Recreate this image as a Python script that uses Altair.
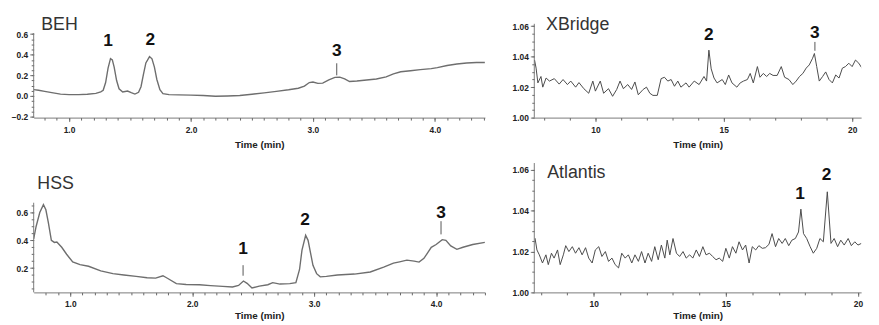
import altair as alt
import pandas as pd

# ---------------- data ----------------
beh_t = [0.71, 0.75, 0.80, 0.87, 0.93, 1.00, 1.08, 1.15, 1.22, 1.26, 1.28, 1.30, 1.32, 1.34, 1.355,
         1.37, 1.39, 1.41, 1.44, 1.48, 1.51, 1.54, 1.57, 1.59, 1.61, 1.63, 1.66, 1.68, 1.70, 1.72,
         1.745, 1.77, 1.82, 1.90, 2.00, 2.10, 2.20, 2.30, 2.40, 2.50, 2.60, 2.70, 2.80, 2.88, 2.93,
         2.97, 3.00, 3.04, 3.08, 3.13, 3.18, 3.22, 3.26, 3.30, 3.36, 3.44, 3.52, 3.60, 3.66, 3.72,
         3.80, 3.88, 3.97, 4.02, 4.10, 4.18, 4.26, 4.34, 4.41]
beh_y = [0.062, 0.055, 0.045, 0.03, 0.018, 0.013, 0.013, 0.017, 0.025, 0.04, 0.055, 0.13, 0.27, 0.362, 0.35,
         0.28, 0.15, 0.07, 0.038, 0.048, 0.032, 0.018, 0.035, 0.09, 0.21, 0.32, 0.382, 0.36, 0.28, 0.16,
         0.06, 0.022, 0.013, 0.01, 0.008, 0.005, -0.003, 0.0, 0.005, 0.017, 0.03, 0.045, 0.06, 0.075, 0.095,
         0.13, 0.135, 0.122, 0.125, 0.155, 0.18, 0.183, 0.165, 0.14, 0.145, 0.155, 0.165, 0.185, 0.215, 0.235,
         0.245, 0.255, 0.265, 0.275, 0.295, 0.31, 0.32, 0.325, 0.325]

hss_t = [0.70, 0.72, 0.75, 0.78, 0.80, 0.82, 0.845, 0.87, 0.89, 0.93, 0.97, 1.02, 1.08, 1.15, 1.25,
         1.35, 1.44, 1.54, 1.63, 1.70, 1.76, 1.80, 1.87, 1.95, 2.06, 2.15, 2.25, 2.33, 2.38, 2.42,
         2.45, 2.49, 2.55, 2.62, 2.66, 2.72, 2.80, 2.85, 2.88, 2.90, 2.93, 2.95, 2.97, 2.99, 3.02,
         3.05, 3.10, 3.19, 3.33, 3.46, 3.57, 3.65, 3.70, 3.76, 3.82, 3.86, 3.90, 3.93, 3.96, 4.00,
         4.05, 4.08, 4.12, 4.17, 4.22, 4.30, 4.40]
hss_y = [0.41, 0.50, 0.60, 0.657, 0.62, 0.53, 0.40, 0.385, 0.388, 0.35, 0.30, 0.245, 0.225, 0.213, 0.18,
         0.16, 0.15, 0.14, 0.13, 0.128, 0.145, 0.125, 0.088, 0.082, 0.08, 0.074, 0.068, 0.064, 0.075, 0.107,
         0.09, 0.057, 0.07, 0.08, 0.095, 0.085, 0.088, 0.095, 0.19, 0.33, 0.436, 0.40, 0.31, 0.22, 0.16,
         0.137, 0.14, 0.15, 0.157, 0.172, 0.207, 0.236, 0.245, 0.257, 0.25, 0.243, 0.27, 0.31, 0.35, 0.37,
         0.405, 0.40, 0.36, 0.335, 0.35, 0.37, 0.385]

xb_t = [7.58, 7.63, 7.69, 7.76, 7.88, 7.95, 8.08, 8.21, 8.40, 8.59, 8.74, 8.91, 9.04, 9.23, 9.36, 9.55,
        9.74, 9.90, 10.0, 10.19, 10.32, 10.51, 10.67, 10.83, 10.96, 11.09, 11.26, 11.41, 11.54, 11.67,
        11.86, 11.99, 12.12, 12.24, 12.41, 12.56, 12.69, 12.82, 12.95, 13.08, 13.21, 13.33, 13.53, 13.65,
        13.85, 14.04, 14.23, 14.33, 14.42, 14.51, 14.62, 14.74, 14.94, 15.06, 15.19, 15.32, 15.51, 15.64,
        15.77, 15.92, 16.03, 16.15, 16.31, 16.41, 16.54, 16.67, 16.79, 16.92, 17.08, 17.24, 17.37, 17.54,
        17.69, 17.82, 17.95, 18.08, 18.21, 18.33, 18.46, 18.53, 18.62, 18.72, 18.85, 18.97, 19.10, 19.23,
        19.36, 19.49, 19.62, 19.74, 19.87, 20.0, 20.13, 20.26, 20.38, 20.51, 20.71]
xb_y = [1.034, 1.0378, 1.0325, 1.0228, 1.027, 1.020, 1.026, 1.024, 1.0256, 1.022, 1.025, 1.0217, 1.024,
        1.020, 1.023, 1.019, 1.016, 1.024, 1.0174, 1.024, 1.016, 1.019, 1.014, 1.0185, 1.024, 1.019, 1.0217,
        1.0185, 1.0234, 1.015, 1.0185, 1.020, 1.016, 1.0146, 1.0146, 1.0256, 1.0265, 1.024, 1.025, 1.0206,
        1.024, 1.020, 1.0228, 1.020, 1.024, 1.0217, 1.027, 1.024, 1.0443, 1.032, 1.026, 1.0228, 1.025,
        1.0217, 1.028, 1.0228, 1.020, 1.0228, 1.024, 1.025, 1.029, 1.0228, 1.0335, 1.0265, 1.029, 1.027,
        1.029, 1.0277, 1.0277, 1.0335, 1.0265, 1.025, 1.0217, 1.024, 1.027, 1.029, 1.0325, 1.0346, 1.039,
        1.0421, 1.0335, 1.024, 1.027, 1.030, 1.025, 1.0228, 1.028, 1.026, 1.0325, 1.0335, 1.0357, 1.0335,
        1.0378, 1.0357, 1.0325, 1.030, 1.031]

at_t = [7.75, 7.78, 7.85, 7.94, 8.06, 8.19, 8.28, 8.40, 8.50, 8.63, 8.73, 8.85, 8.94, 9.06, 9.19, 9.31,
        9.44, 9.56, 9.69, 9.81, 9.94, 10.06, 10.19, 10.31, 10.44, 10.56, 10.69, 10.81, 10.94, 11.06, 11.19,
        11.31, 11.44, 11.56, 11.69, 11.81, 11.94, 12.06, 12.19, 12.31, 12.44, 12.56, 12.69, 12.78, 12.88,
        13.0, 13.13, 13.25, 13.38, 13.5, 13.63, 13.75, 13.88, 14.0, 14.13, 14.25, 14.38, 14.5, 14.63, 14.75,
        14.88, 15.0, 15.13, 15.25, 15.38, 15.5, 15.63, 15.75, 15.88, 16.0, 16.13, 16.25, 16.38, 16.5, 16.63,
        16.75, 16.88, 17.0, 17.13, 17.25, 17.38, 17.5, 17.63, 17.75, 17.84, 17.94, 18.06, 18.19, 18.31,
        18.44, 18.56, 18.69, 18.84, 18.98, 19.1, 19.23, 19.35, 19.48, 19.63, 19.75, 19.88, 20.0, 20.13,
        20.25, 20.38, 20.46]
at_y = [1.026, 1.0264, 1.0208, 1.0184, 1.0144, 1.0184, 1.0136, 1.0192, 1.0168, 1.0208, 1.0136, 1.0184,
        1.0229, 1.020, 1.0224, 1.0192, 1.0219, 1.0184, 1.0219, 1.0168, 1.0144, 1.0208, 1.0224, 1.0176,
        1.020, 1.0152, 1.0168, 1.0136, 1.012, 1.0192, 1.0168, 1.0184, 1.0144, 1.0184, 1.0152, 1.020,
        1.0144, 1.0192, 1.0152, 1.0224, 1.016, 1.0232, 1.0168, 1.0256, 1.0184, 1.0264, 1.0192, 1.0176,
        1.020, 1.0168, 1.0184, 1.0168, 1.0208, 1.0176, 1.0224, 1.0184, 1.0192, 1.0176, 1.016, 1.0168,
        1.0152, 1.0216, 1.0168, 1.0224, 1.0192, 1.0248, 1.0208, 1.0232, 1.0144, 1.0224, 1.0208, 1.0229,
        1.0216, 1.0219, 1.0235, 1.0288, 1.0224, 1.0264, 1.024, 1.0264, 1.0229, 1.0256, 1.0264, 1.0296,
        1.0408, 1.0288, 1.0264, 1.0224, 1.0192, 1.0216, 1.0264, 1.0248, 1.0493, 1.024, 1.0264, 1.0224,
        1.0256, 1.0232, 1.0264, 1.0229, 1.0248, 1.0232, 1.024, 1.0229, 1.0288, 1.029]

panel_names = ["BEH", "HSS", "XBridge", "Atlantis"]

beh_peak_lab = ["1", "2", "3"]
beh_peak_t = [1.32, 1.667, 3.195]
beh_peak_y = [0.534, 0.543, 0.432]
beh_mark_t = [3.195]
beh_mark_y1 = [0.20]
beh_mark_y2 = [0.317]

hss_peak_lab = ["1", "2", "3"]
hss_peak_t = [2.417, 2.926, 4.04]
hss_peak_y = [0.336, 0.543, 0.598]
hss_mark_t = [2.417, 4.04]
hss_mark_y1 = [0.145, 0.443]
hss_mark_y2 = [0.221, 0.538]

xb_peak_lab = ["2", "3"]
xb_peak_t = [14.42, 18.55]
xb_peak_y = [1.054, 1.0557]
xb_mark_t = [18.55]
xb_mark_y1 = [1.0439]
xb_mark_y2 = [1.0497]

at_peak_lab = ["1", "2"]
at_peak_t = [17.81, 18.81]
at_peak_y = [1.048, 1.0576]

left_ticks = [1.0, 2.0, 3.0, 4.0]
right_ticks = [10, 15, 20]
beh_yticks = [-0.2, 0.0, 0.2, 0.4, 0.6]
hss_yticks = [0.2, 0.4, 0.6]
ri_yticks = [1.00, 1.02, 1.04, 1.06]

AX = "#7a7a7a"
FONT = "Liberation Sans"


def frange(a, b, step):
    n = int(round((b - a) / step))
    return [round(a + i * step, 4) for i in range(n + 1)]


def panel(t, y, xdom, ydom, ytop, xmaj, xmin_, ymaj, ymin_, xfmt, yfmt,
          name, name_t, name_y, pk_lab, pk_t, pk_y, mk_t, mk_y1, mk_y2,
          w, h, color, sw, lpad, tpad):
    xs = alt.Scale(domain=xdom, nice=False, zero=False)
    ys = alt.Scale(domain=ydom, nice=False, zero=False)
    df = pd.DataFrame({"t": t, "y": y})
    line = alt.Chart(df).mark_line(color=color, strokeWidth=sw, clip=True).encode(
        x=alt.X("t:Q", scale=xs, axis=alt.Axis(values=xmaj, format=xfmt, title="Time (min)",
                                                tickSize=4, labelPadding=lpad, titlePadding=tpad,
                                                orient="bottom", grid=False)),
        y=alt.Y("y:Q", scale=ys, axis=alt.Axis(values=ymaj, format=yfmt, title=None, domain=False,
                                                tickSize=4, labelPadding=2, orient="left", grid=False)),
    )
    minor = alt.Chart(df).mark_line(opacity=0).encode(
        x=alt.X("t:Q", scale=xs, axis=alt.Axis(values=xmin_, labels=False, title=None, tickSize=2.5,
                                                domain=False, orient="bottom", grid=False,
                                                tickColor="#666666")),
        y=alt.Y("y:Q", scale=ys, axis=alt.Axis(values=ymin_, labels=False, title=None, tickSize=2.5,
                                                domain=False, orient="left", grid=False,
                                                tickColor="#666666")),
    )
    adf = pd.DataFrame({"t": [xdom[0]], "y0": [ydom[0]], "y1": [ytop]})
    yline = alt.Chart(adf).mark_rule(color=AX, strokeWidth=1).encode(
        x=alt.X("t:Q", scale=xs, axis=None),
        y=alt.Y("y0:Q", scale=ys, axis=None),
        y2="y1:Q",
    )
    ndf = pd.DataFrame({"t": [name_t], "y": [name_y], "lab": [name]})
    title = alt.Chart(ndf).mark_text(align="left", baseline="middle", fontSize=18, font=FONT,
                                     color="#333333").encode(
        x=alt.X("t:Q", scale=xs, axis=None),
        y=alt.Y("y:Q", scale=ys, axis=None),
        text="lab:N",
    )
    pdf = pd.DataFrame({"t": pk_t, "y": pk_y, "lab": pk_lab})
    peaks = alt.Chart(pdf).mark_text(align="center", baseline="middle", fontSize=17.5, font=FONT,
                                     fontWeight="bold", color="#111111").encode(
        x=alt.X("t:Q", scale=xs, axis=None),
        y=alt.Y("y:Q", scale=ys, axis=None),
        text="lab:N",
    )
    layers = [line, minor, yline, title, peaks]
    if mk_t:
        mdf = pd.DataFrame({"t": mk_t, "y1": mk_y1, "y2": mk_y2})
        marks = alt.Chart(mdf).mark_rule(color="#555555", strokeWidth=1).encode(
            x=alt.X("t:Q", scale=xs, axis=None),
            y=alt.Y("y1:Q", scale=ys, axis=None),
            y2="y2:Q",
        )
        layers.append(marks)
    return alt.layer(*layers).resolve_axis(x="independent", y="independent").properties(
        width=w, height=h)


beh = panel(beh_t, beh_y, [0.71, 4.41], [-0.21, 0.70], 0.61, left_ticks, frange(0.8, 4.4, 0.1),
            beh_yticks, frange(-0.2, 0.6, 0.05), ".1f", ".1f",
            panel_names[0], 0.772, 0.69, beh_peak_lab, beh_peak_t, beh_peak_y,
            beh_mark_t, beh_mark_y1, beh_mark_y2, 457, 95, "#6e6e6e", 1.4, 4, 6)
hss = panel(hss_t, hss_y, [0.70, 4.40], [0.025, 0.957], 0.671, left_ticks, frange(0.8, 4.4, 0.1),
            hss_yticks, frange(0.05, 0.65, 0.05), ".1f", ".1f",
            panel_names[1], 0.73, 0.807, hss_peak_lab, hss_peak_t, hss_peak_y,
            hss_mark_t, hss_mark_y1, hss_mark_y2, 457, 131, "#6e6e6e", 1.4, 3, 3)
xb = panel(xb_t, xb_y, [7.62, 20.35], [1.0, 1.0616], 1.0616, right_ticks, frange(8, 20, 1),
           ri_yticks, frange(1.0, 1.06, 0.005), "d", ".2f",
           panel_names[2], 8.08, 1.0605, xb_peak_lab, xb_peak_t, xb_peak_y,
           xb_mark_t, xb_mark_y1, xb_mark_y2, 331, 95, "#4a4a4a", 1.0, 4, 6)
at = panel(at_t, at_y, [7.75, 20.12], [1.0, 1.0634], 1.0634, right_ticks, frange(8, 20, 1),
           ri_yticks, frange(1.0, 1.06, 0.005), "d", ".2f",
           panel_names[3], 8.24, 1.0586, at_peak_lab, at_peak_t, at_peak_y,
           [], [], [], 331, 131, "#4a4a4a", 1.0, 3, 3)

chart = alt.concat(beh, xb, hss, at, columns=2, spacing={"row": 46, "column": 50},
                   bounds="flush").properties(
    padding={"left": 3, "top": 6, "right": 0, "bottom": 0}
).configure_view(stroke=None).configure_axis(
    labelFont=FONT, labelFontSize=8.5, labelFontWeight="bold", labelColor="#222222",
    titleFont=FONT, titleFontSize=10, titleFontWeight="bold", titleColor="#222222",
    domainColor=AX, tickColor=AX, domainWidth=1, tickWidth=1,
)

chart.save("out.html", embed_options={"renderer": "svg", "actions": False})
